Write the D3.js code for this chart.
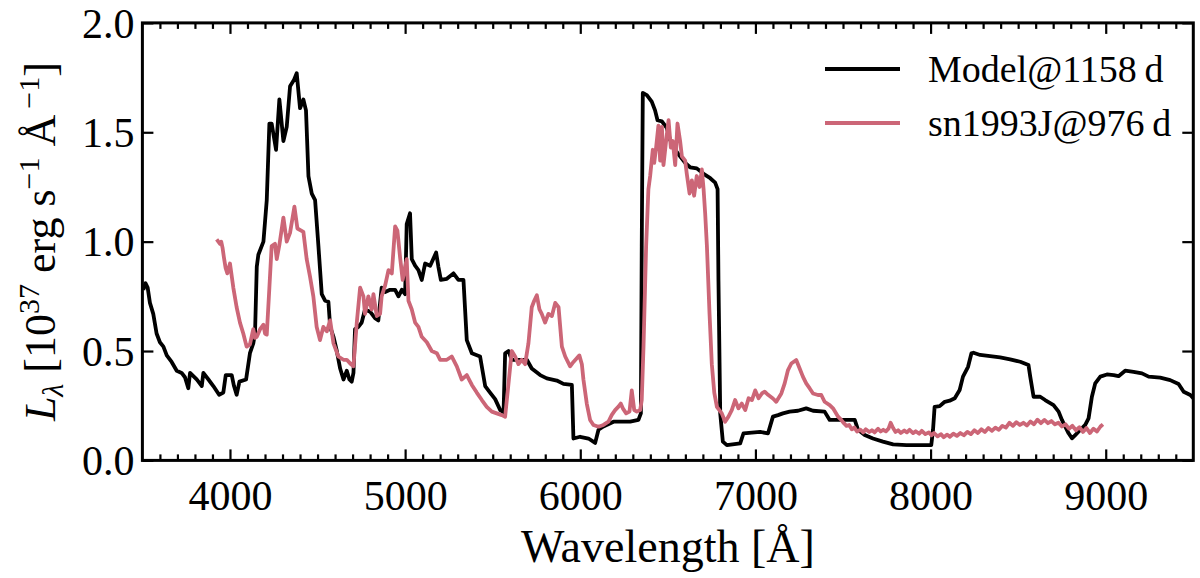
<!DOCTYPE html>
<html>
<head>
<meta charset="utf-8">
<script src="https://cdn.jsdelivr.net/npm/d3@7"></script>
<style>
  body { margin: 0; background: #fff; }
  svg text { font-family: "Liberation Serif", "DejaVu Serif", serif; fill: #000; }
</style>
</head>
<body>
<div id="graphique"></div>
<script>
// ===============================
// Données
// ===============================
const modelWave = [3505, 3518, 3530, 3543, 3562, 3581, 3600, 3620, 3639, 3667, 3696, 3724, 3743, 3762, 3772, 3810, 3839, 3848, 3877, 3905,
  3938, 3962, 3976, 4010, 4023, 4038, 4054, 4092, 4114, 4133, 4143, 4153, 4162, 4191, 4210, 4225, 4238, 4263, 4282, 4305,
  4324, 4343, 4366, 4381, 4400, 4419, 4434, 4448, 4467, 4486, 4505, 4524, 4543, 4562, 4572, 4591, 4610, 4629, 4648, 4667,
  4682, 4695, 4705, 4714, 4733, 4752, 4771, 4800, 4828, 4847, 4866, 4886, 4914, 4943, 4962, 4981, 5000, 5009, 5028, 5038,
  5057, 5076, 5095, 5114, 5143, 5177, 5190, 5204, 5238, 5276, 5304, 5333, 5352, 5381, 5428, 5457, 5485, 5514, 5543, 5562,
  5571, 5590, 5609, 5695, 5723, 5771, 5809, 5866, 5904, 5952, 5961, 5999, 6047, 6085, 6104, 6132, 6190, 6285, 6332, 6346,
  6351, 6357, 6380, 6408, 6427, 6441, 6466, 6494, 6513, 6542, 6570, 6599, 6627, 6665, 6704, 6742, 6770, 6784, 6789, 6799,
  6814, 6837, 6913, 6932, 7027, 7072, 7100, 7129, 7157, 7195, 7243, 7290, 7329, 7395, 7424, 7567, 7586, 7624, 7671, 7728,
  7786, 7862, 8004, 8014, 8023, 8052, 8081, 8109, 8138, 8166, 8185, 8214, 8233, 8245, 8283, 8340, 8397, 8454, 8512, 8559,
  8569, 8588, 8626, 8654, 8702, 8731, 8750, 8769, 8788, 8807, 8826, 8854, 8883, 8902, 8921, 8940, 8969, 9007, 9045, 9073,
  9111, 9159, 9207, 9245, 9311, 9368, 9416, 9445, 9483, 9500];
const modelFlux = [0.78, 0.81, 0.79, 0.72, 0.67, 0.58, 0.54, 0.52, 0.48, 0.45, 0.41, 0.40, 0.38, 0.33, 0.40, 0.37, 0.34, 0.40, 0.37, 0.34,
  0.30, 0.31, 0.39, 0.39, 0.34, 0.30, 0.36, 0.37, 0.49, 0.535, 0.58, 0.885, 0.94, 1.00, 1.19, 1.54, 1.54, 1.42, 1.65, 1.46,
  1.525, 1.71, 1.74, 1.77, 1.61, 1.65, 1.60, 1.30, 1.22, 1.19, 0.98, 0.76, 0.73, 0.725, 0.61, 0.565, 0.50, 0.42, 0.37, 0.41,
  0.37, 0.36, 0.40, 0.60, 0.61, 0.63, 0.69, 0.68, 0.65, 0.64, 0.79, 0.77, 0.78, 0.78, 0.75, 0.78, 0.76, 1.08, 1.13, 0.92,
  0.89, 0.87, 0.825, 0.90, 0.89, 0.95, 0.885, 0.825, 0.83, 0.855, 0.825, 0.825, 0.55, 0.49, 0.475, 0.34, 0.31, 0.28, 0.23, 0.22,
  0.49, 0.50, 0.46, 0.46, 0.42, 0.39, 0.375, 0.365, 0.35, 0.345, 0.10, 0.108, 0.10, 0.08, 0.14, 0.155, 0.177, 0.177, 0.185, 0.215,
  0.98, 1.68, 1.67, 1.64, 1.60, 1.555, 1.55, 1.52, 1.465, 1.42, 1.39, 1.36, 1.34, 1.335, 1.31, 1.29, 1.27, 1.24, 0.82, 0.215,
  0.086, 0.07, 0.078, 0.124, 0.13, 0.124, 0.20, 0.207, 0.215, 0.223, 0.227, 0.238, 0.227, 0.223, 0.185, 0.185, 0.14, 0.116, 0.10, 0.086,
  0.073, 0.07, 0.07, 0.14, 0.245, 0.248, 0.268, 0.273, 0.284, 0.322, 0.383, 0.428, 0.489, 0.492, 0.482, 0.477, 0.471, 0.462, 0.451, 0.436,
  0.383, 0.291, 0.291, 0.276, 0.253, 0.223, 0.185, 0.154, 0.124, 0.101, 0.116, 0.139, 0.162, 0.192, 0.291, 0.352, 0.383, 0.393, 0.39, 0.385,
  0.41, 0.405, 0.398, 0.383, 0.378, 0.367, 0.349, 0.314, 0.299, 0.284];

const obsWave = [3924, 3943, 3950, 3958, 3965, 3975, 3985, 4000, 4019, 4038, 4057, 4076, 4095, 4114, 4133, 4143, 4153, 4172, 4191, 4200,
  4210, 4225, 4238, 4257, 4267, 4282, 4305, 4324, 4343, 4368, 4385, 4419, 4438, 4457, 4476, 4495, 4514, 4533, 4553, 4572,
  4591, 4619, 4648, 4667, 4690, 4705, 4724, 4743, 4762, 4771, 4790, 4809, 4819, 4838, 4857, 4866, 4886, 4905, 4924, 4943,
  4956, 4971, 4986, 5000, 5009, 5019, 5038, 5057, 5076, 5095, 5124, 5152, 5181, 5200, 5238, 5266, 5295, 5323, 5352, 5381,
  5409, 5438, 5466, 5495, 5523, 5552, 5571, 5590, 5609, 5628, 5647, 5666, 5685, 5704, 5723, 5737, 5752, 5767, 5780, 5799,
  5818, 5838, 5857, 5876, 5895, 5914, 5942, 5961, 5980, 5995, 6009, 6018, 6037, 6056, 6075, 6104, 6132, 6161, 6180, 6199,
  6218, 6231, 6243, 6262, 6281, 6294, 6308, 6323, 6342, 6351, 6361, 6376, 6389, 6399, 6414, 6422, 6433, 6446, 6456, 6466,
  6475, 6490, 6504, 6517, 6528, 6542, 6555, 6570, 6580, 6599, 6608, 6624, 6637, 6650, 6665, 6681, 6694, 6704, 6713, 6723,
  6738, 6751, 6765, 6780, 6808, 6827, 6846, 6865, 6884, 6903, 6922, 6942, 6961, 6980, 6999, 7018, 7037, 7053, 7072, 7100,
  7119, 7148, 7167, 7186, 7205, 7233, 7252, 7271, 7290, 7310, 7329, 7357, 7376, 7395, 7424, 7443, 7472, 7490, 7505, 7520,
  7535, 7550, 7565, 7580, 7600, 7615, 7630, 7650, 7665, 7680, 7700, 7715, 7730, 7745, 7760, 7772, 7786, 7800, 7815, 7830,
  7850, 7865, 7880, 7900, 7915, 7935, 7950, 7970, 7990, 8005, 8020, 8040, 8060, 8075, 8095, 8110, 8130, 8150, 8170, 8190,
  8210, 8230, 8250, 8270, 8290, 8310, 8330, 8350, 8370, 8390, 8410, 8430, 8450, 8470, 8490, 8510, 8530, 8550, 8570, 8590,
  8610, 8630, 8650, 8670, 8690, 8710, 8730, 8750, 8770, 8790, 8810, 8830, 8850, 8870, 8890, 8910, 8930, 8950, 8970, 8984];
const obsFlux = [1.01, 0.99, 1.0, 0.97, 0.93, 0.88, 0.855, 0.90, 0.79, 0.70, 0.63, 0.58, 0.52, 0.53, 0.60, 0.56, 0.565, 0.60, 0.62, 0.58,
  0.575, 0.79, 0.98, 0.99, 0.92, 0.985, 1.11, 1.0, 1.04, 1.16, 1.06, 1.045, 0.92, 0.84, 0.75, 0.61, 0.55, 0.61, 0.59, 0.64,
  0.535, 0.475, 0.46, 0.46, 0.44, 0.43, 0.63, 0.79, 0.75, 0.67, 0.75, 0.69, 0.76, 0.66, 0.67, 0.75, 0.80, 0.87, 0.855, 1.07,
  1.05, 0.93, 0.825, 0.885, 0.92, 0.73, 0.69, 0.63, 0.61, 0.565, 0.54, 0.50, 0.49, 0.46, 0.46, 0.475, 0.43, 0.37, 0.39, 0.345,
  0.31, 0.276, 0.245, 0.223, 0.215, 0.207, 0.20, 0.35, 0.50, 0.475, 0.44, 0.46, 0.44, 0.535, 0.70, 0.73, 0.755, 0.69, 0.67, 0.63,
  0.67, 0.66, 0.72, 0.70, 0.52, 0.475, 0.43, 0.45, 0.467, 0.48, 0.44, 0.37, 0.26, 0.185, 0.162, 0.154, 0.162, 0.177, 0.208, 0.23,
  0.246, 0.26, 0.238, 0.215, 0.223, 0.32, 0.23, 0.223, 0.23, 0.276, 0.52, 0.98, 1.24, 1.30, 1.42, 1.36, 1.43, 1.53, 1.37, 1.525,
  1.35, 1.46, 1.555, 1.43, 1.46, 1.35, 1.54, 1.46, 1.39, 1.37, 1.31, 1.22, 1.28, 1.21, 1.30, 1.25, 1.33, 1.24, 1.13, 0.98,
  0.67, 0.44, 0.31, 0.245, 0.215, 0.177, 0.20, 0.23, 0.276, 0.238, 0.26, 0.23, 0.284, 0.276, 0.32, 0.284, 0.306, 0.314, 0.30, 0.283,
  0.268, 0.306, 0.352, 0.413, 0.443, 0.459, 0.421, 0.383, 0.352, 0.329, 0.306, 0.299, 0.299, 0.268, 0.253, 0.238, 0.20, 0.185, 0.17, 0.158,
  0.162, 0.142, 0.15, 0.132, 0.14, 0.128, 0.142, 0.13, 0.138, 0.128, 0.145, 0.132, 0.14, 0.133, 0.145, 0.172, 0.148, 0.13, 0.138, 0.125,
  0.137, 0.128, 0.14, 0.125, 0.133, 0.122, 0.135, 0.12, 0.128, 0.115, 0.125, 0.11, 0.12, 0.106, 0.118, 0.108, 0.122, 0.112, 0.125, 0.115,
  0.13, 0.12, 0.138, 0.125, 0.142, 0.13, 0.148, 0.135, 0.15, 0.14, 0.158, 0.15, 0.172, 0.158, 0.175, 0.162, 0.172, 0.16, 0.178, 0.165,
  0.186, 0.17, 0.185, 0.17, 0.18, 0.165, 0.172, 0.155, 0.165, 0.145, 0.158, 0.138, 0.152, 0.13, 0.148, 0.125, 0.145, 0.132, 0.155, 0.165];

const series = [
  { nom: "Model@1158\u2009d", wave: modelWave, flux: modelFlux, couleur: "#000000" },
  { nom: "sn1993J@976\u2009d", wave: obsWave, flux: obsFlux, couleur: "#cc6677" }
];

const xTicks = [4000, 5000, 6000, 7000, 8000, 9000];
const yTicks = [0.0, 0.5, 1.0, 1.5, 2.0];

// ===============================
// Mise en page
// ===============================
const largeur = 1200, hauteur = 578;
const marge = { gauche: 142.4, droite: 6.7, haut: 22.9, bas: 117.6 };
const x0 = marge.gauche, x1 = largeur - marge.droite;
const y0 = hauteur - marge.bas, y1 = marge.haut;

const svg = d3.select("#graphique").append("svg")
  .attr("width", largeur).attr("height", hauteur);

const x = d3.scaleLinear().domain([3500, 9500]).range([x0, x1]);
const y = d3.scaleLinear().domain([0, 2]).range([y0, y1]);

svg.append("clipPath").attr("id", "zone")
  .append("rect").attr("x", x0).attr("y", y1).attr("width", x1 - x0).attr("height", y0 - y1);

// Courbes
const ligne = d3.line().x(d => x(d[0])).y(d => y(d[1]));
for (let s of series) {
  const points = s.wave.map((w, i) => [w, s.flux[i]]);
  svg.append("path")
    .attr("clip-path", "url(#zone)")
    .attr("d", ligne(points))
    .attr("fill", "none")
    .attr("stroke", s.couleur)
    .attr("stroke-width", 3.8)
    .attr("stroke-linejoin", "round");
}

// Axes (graduations vers l'intérieur)
const minorX = d3.range(3600, 9500, 100).filter(v => v % 1000 !== 0);
function axeX(g, orient, position) {
  const axis = orient === "bas" ? d3.axisBottom(x) : d3.axisTop(x);
  g.attr("transform", `translate(0,${position})`);
  g.call(axis.tickValues(minorX).tickSize(-6).tickFormat(""));
  g.call(g2 => g2.select(".domain").remove());
  const maj = g.append("g");
  maj.call((orient === "bas" ? d3.axisBottom(x) : d3.axisTop(x)).tickValues(xTicks).tickSize(-11)
    .tickPadding(orient === "bas" ? 20 : 0).tickFormat(orient === "bas" ? d3.format("d") : ""));
  maj.select(".domain").remove();
}
const gBas = svg.append("g");
axeX(gBas, "bas", y0);
const gHaut = svg.append("g");
axeX(gHaut, "haut", y1);

const gGauche = svg.append("g").attr("transform", `translate(${x0},0)`)
  .call(d3.axisLeft(y).tickValues(yTicks).tickSize(-11).tickPadding(8).tickFormat(d3.format(".1f")));
gGauche.select(".domain").remove();
const gDroite = svg.append("g").attr("transform", `translate(${x1},0)`)
  .call(d3.axisRight(y).tickValues(yTicks).tickSize(-11).tickFormat(""));
gDroite.select(".domain").remove();

svg.selectAll(".tick line").attr("stroke", "#000").attr("stroke-width", 2.2);
svg.selectAll(".tick text").attr("font-family", "Liberation Serif, serif").attr("font-size", 42).attr("fill", "#000");
gBas.selectAll(".tick text").attr("dy", "0.7em");
gGauche.selectAll(".tick text").attr("dy", "0.34em");

// Cadre
svg.append("rect")
  .attr("x", x0).attr("y", y1).attr("width", x1 - x0).attr("height", y0 - y1)
  .attr("fill", "none").attr("stroke", "#000").attr("stroke-width", 3);

// Titres des axes
svg.append("text")
  .attr("x", (x0 + x1) / 2).attr("y", 562)
  .attr("text-anchor", "middle").attr("font-size", 46)
  .text("Wavelength [\u00c5]");

const titreY = svg.append("text")
  .attr("transform", `translate(55,${(y0 + y1) / 2}) rotate(-90)`)
  .attr("text-anchor", "middle").attr("font-size", 44);
titreY.append("tspan").attr("font-style", "italic").text("L");
titreY.append("tspan").attr("font-style", "italic").attr("font-size", 30).attr("baseline-shift", "-8").text("\u03bb");
titreY.append("tspan").text(" [10");
titreY.append("tspan").attr("font-size", 30).attr("baseline-shift", "16").text("37");
titreY.append("tspan").text(" erg s");
titreY.append("tspan").attr("font-size", 30).attr("baseline-shift", "16").text("\u22121");
titreY.append("tspan").text(" \u00c5");
titreY.append("tspan").attr("font-size", 30).attr("baseline-shift", "16").text("\u2009\u22121");
titreY.append("tspan").text("]");

// Légende
const legende = svg.append("g");
series.forEach((s, i) => {
  const ly = 69 + i * 54;
  legende.append("line")
    .attr("x1", 825).attr("x2", 900).attr("y1", ly).attr("y2", ly)
    .attr("stroke", s.couleur).attr("stroke-width", 3.8);
  legende.append("text")
    .attr("x", 928).attr("y", ly + 13)
    .attr("font-size", 38)
    .text(s.nom);
});
</script>
</body>
</html>
